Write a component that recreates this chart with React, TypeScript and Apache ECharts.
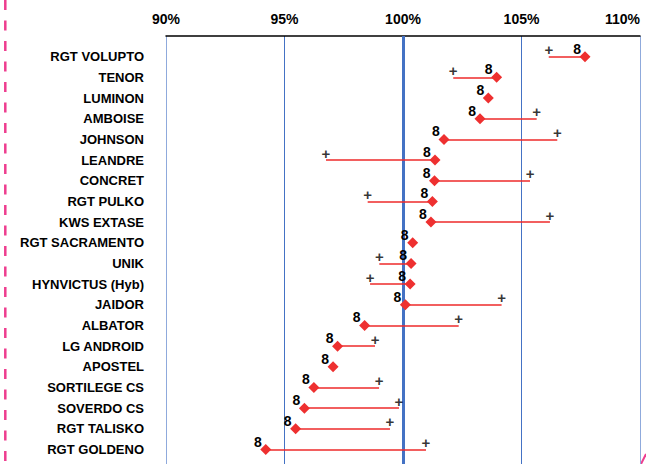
import React, { useEffect, useRef } from "react";
import * as echarts from "echarts";

const categories = [
  "RGT VOLUPTO", "TENOR", "LUMINON", "AMBOISE", "JOHNSON", "LEANDRE", "CONCRET",
  "RGT PULKO", "KWS EXTASE", "RGT SACRAMENTO", "UNIK", "HYNVICTUS (Hyb)", "JAIDOR",
  "ALBATOR", "LG ANDROID", "APOSTEL", "SORTILEGE CS", "SOVERDO CS", "RGT TALISKO", "RGT GOLDENO",
];
const diamondValues = [
  107.68, 103.95, 103.6, 103.25, 101.73, 101.35, 101.33, 101.24, 101.18, 100.41,
  100.34, 100.3, 100.1, 98.38, 97.24, 97.05, 96.24, 95.84, 95.47, 94.21,
];
const plusValues: (number | null)[] = [
  106.15, 102.12, null, 105.64, 106.51, 96.75, 105.36, 98.51, 106.2, null,
  99.0, 98.61, 104.16, 102.35, 98.82, null, 98.99, 99.83, 99.45, 100.97,
];
const xTicks = [90, 95, 100, 105, 110];
const referenceValue = 100;

export default function App() {
  const ref = useRef<HTMLDivElement>(null);
  useEffect(() => {
    if (!ref.current) return;
    const chart = echarts.init(ref.current, undefined, { renderer: "svg" });
    const lineData = categories
      .map((_, i) =>
        plusValues[i] == null ? null : { coords: [[plusValues[i], i], [diamondValues[i], i]] }
      )
      .filter((d) => d !== null);
    const plusData = categories
      .map((_, i) => (plusValues[i] == null ? null : [plusValues[i], i]))
      .filter((d) => d !== null);
    const diamondData = diamondValues.map((v, i) => [v, i]);

    chart.setOption({
      animation: false,
      backgroundColor: "#ffffff",
      grid: { left: 166, right: 6, top: 36, bottom: 0, containLabel: false },
      xAxis: {
        type: "value",
        position: "top",
        min: xTicks[0],
        max: xTicks[xTicks.length - 1],
        interval: 5,
        axisLine: { show: true, onZero: false, lineStyle: { color: "#000000", width: 1.5 } },
        axisTick: { show: false },
        axisLabel: {
          formatter: "{value}%",
          color: "#000000",
          fontWeight: "bold",
          fontSize: 14,
          fontFamily: "Liberation Sans",
          margin: 10,
          alignMaxLabel: "right",
        },
        splitLine: {
          show: true,
          lineStyle: {
            color: ["#8faadc", "#4472c4", "#4472c4", "#4472c4", "#8faadc"],
            width: 1,
          },
        },
      },
      yAxis: {
        type: "value",
        inverse: true,
        min: -1,
        max: 19.7,
        interval: 1,
        axisLine: { show: false },
        axisTick: { show: false },
        splitLine: { show: false },
        axisLabel: {
          color: "#000000",
          fontWeight: "bold",
          fontSize: 13,
          fontFamily: "Liberation Sans",
          margin: 22,
          formatter: (v: number) => {
            const r = Math.round(v);
            if (Math.abs(v - r) > 1e-6 || r < 0 || r >= categories.length) return "";
            return categories[r];
          },
        },
      },
      series: [
        {
          type: "lines",
          coordinateSystem: "cartesian2d",
          polyline: false,
          silent: true,
          z: 2,
          lineStyle: { color: "#ee2a2a", width: 1.5, opacity: 1 },
          data: lineData,
          markLine: {
            silent: true,
            z: 1,
            symbol: "none",
            label: { show: false },
            lineStyle: { color: "#4472c4", width: 3, type: "solid", opacity: 1 },
            data: [{ xAxis: referenceValue }],
          },
        },
        {
          type: "scatter",
          z: 4,
          symbol: "diamond",
          symbolSize: 11,
          itemStyle: { color: "#ee3030", opacity: 1 },
          label: {
            show: true,
            formatter: "8",
            position: "inside",
            offset: [-8, -8],
            color: "#000000",
            fontWeight: "bold",
            fontSize: 14,
            fontFamily: "Liberation Sans",
          },
          data: diamondData,
        },
        {
          type: "scatter",
          z: 3,
          symbol: "circle",
          symbolSize: 1,
          itemStyle: { color: "transparent" },
          label: {
            show: true,
            formatter: "+",
            position: "inside",
            offset: [0, -7],
            color: "#000000",
            fontWeight: "bold",
            fontSize: 15,
            fontFamily: "Liberation Sans",
          },
          data: plusData,
        },
      ],
      graphic: [
        {
          type: "line",
          silent: true,
          shape: { x1: 5.3, y1: 0, x2: 5.3, y2: 464 },
          style: { stroke: "#ee3d8f", lineWidth: 2.5, lineDash: [10, 10.5] },
        },
        {
          type: "line",
          silent: true,
          shape: { x1: 641, y1: 464, x2: 646, y2: 454 },
          style: { stroke: "#ee3d8f", lineWidth: 2 },
        },
      ],
    });
    return () => chart.dispose();
  }, []);
  return (
    <div
      ref={ref}
      style={{ position: "fixed", left: 0, top: 0, width: 646, height: 464, background: "#fff" }}
    />
  );
}
